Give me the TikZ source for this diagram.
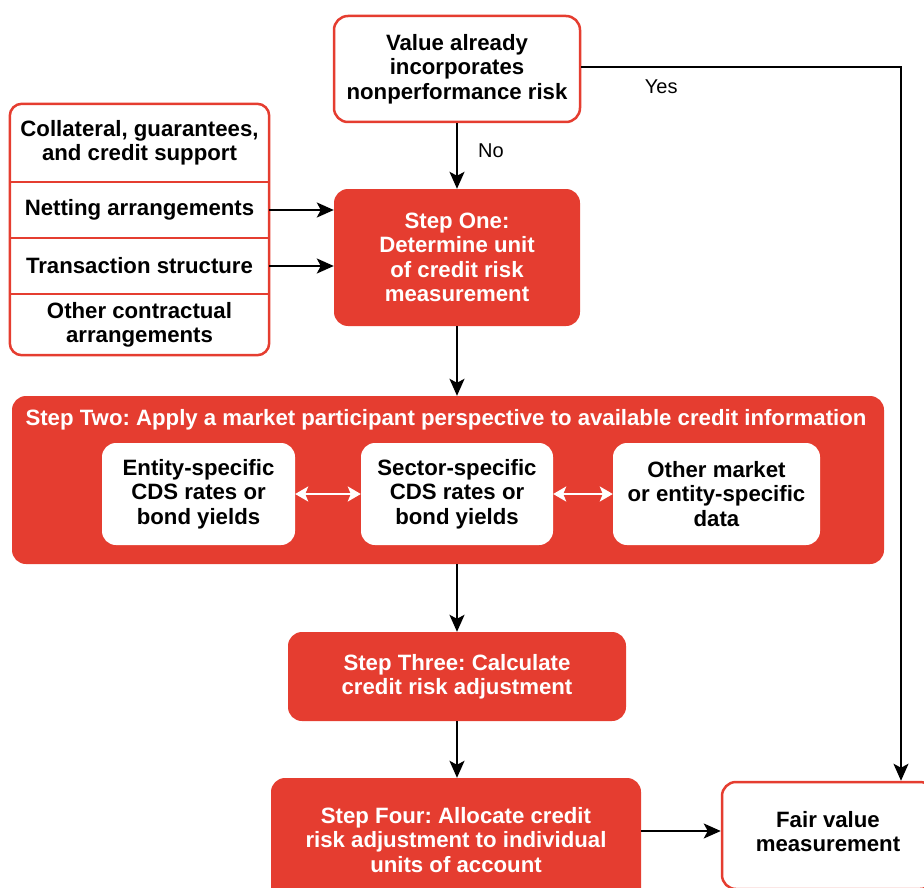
\documentclass[tikz,border=0pt]{standalone}
\usepackage{fontspec}
\setmainfont{Liberation Sans}
\usetikzlibrary{arrows.meta,calc}
\definecolor{cred}{RGB}{229,61,48}
\frenchspacing
\begin{document}
\begin{tikzpicture}[x=1pt,y=-1pt,
  txt/.style={font=\fontsize{22.2}{24.3}\selectfont\bfseries, align=center},
  box/.style={txt, rectangle, rounded corners=14pt, inner sep=0pt},
  whitebox/.style={box, draw=cred, line width=2.5pt, fill=white, text=black},
  redbox/.style={box, fill=cred, text=white},
  innerbox/.style={box, fill=white, text=black, minimum height=102pt},
  seg/.style={txt, rectangle, inner sep=0pt, minimum width=259pt, text=black},
  lbl/.style={font=\fontsize{20}{24}\selectfont, text=black, inner sep=0pt},
  arr/.style={-{Stealth[length=17pt,width=15pt,inset=4pt]}, line width=2pt, black},
  warr/.style={{Stealth[length=13pt,width=15pt,inset=3pt]}-{Stealth[length=13pt,width=15pt,inset=3pt]}, line width=2pt, white}
]
\useasboundingbox (0,0) rectangle (924,888);

% top decision box
\node[whitebox, minimum width=246pt, minimum height=106pt] (val) at (457,69)
  {Value already\\incorporates\\nonperformance risk};

% step one
\node[redbox, minimum width=246pt, minimum height=137pt] (s1) at (457,257.5)
  {Step One:\\Determine unit\\of credit risk\\measurement};

% left stacked box
\node[seg, minimum height=78pt] (c1) at (139.5,143) {Collateral, guarantees,\\and credit support};
\node[seg, minimum height=56pt] (c2) at (139.5,210) {Netting arrangements};
\node[seg, minimum height=56pt] (c3) at (139.5,266) {Transaction structure};
\node[seg, minimum height=61pt] (c4) at (139.5,324.5) {Other contractual\\arrangements};
\draw[cred, line width=2.5pt, rounded corners=12pt] (c1.north west) rectangle (c4.south east);
\draw[cred, line width=2.5pt] (c1.south west) -- (c1.south east)
  (c2.south west) -- (c2.south east) (c3.south west) -- (c3.south east);

% step two
\node[redbox, minimum width=872pt, minimum height=168pt] (s2) at (448,480) {};
\node[txt, text=white, inner sep=0pt] (s2t) at (446,420)
  {Step Two: Apply a market participant perspective to available credit information};
\node[innerbox, minimum width=193pt] (e1) at (198.5,494) {Entity-specific\\CDS rates or\\bond yields};
\node[innerbox, minimum width=192pt] (e2) at (457,494) {Sector-specific\\CDS rates or\\bond yields};
\node[innerbox, minimum width=207pt] (e3) at (716.5,494) {Other market\\or entity-specific\\data};

% step three, four
\node[redbox, minimum width=338pt, minimum height=89pt] (s3) at (457,676.5)
  {Step Three: Calculate\\credit risk adjustment};
\node[redbox, minimum width=370pt, minimum height=124pt] (s4) at (456,840)
  {Step Four: Allocate credit\\risk adjustment to individual\\units of account};

% fair value
\node[whitebox, minimum width=212pt, minimum height=107pt, text depth=8pt] (fv) at (828,835.5)
  {Fair value\\measurement};

% connectors
\draw[arr] (val.south) -- (s1.north) node[lbl, pos=0.42, xshift=34pt] {No};
\draw[arr] (c2.east) -- (c2.east -| s1.west);
\draw[arr] (c3.east) -- (c3.east -| s1.west);
\draw[arr] (s1.south) -- (s2.north -| s1.south);
\draw[warr] (e1.east) -- (e2.west);
\draw[warr] (e2.east) -- (e3.west);
\draw[arr] (s2.south -| s3.north) -- (s3.north);
\draw[arr] (s3.south) -- (s4.north -| s3.south);
\draw[arr] ([yshift=9pt]s4.east) -- ([yshift=9pt]s4.east -| fv.west);
\coordinate (yc) at (901,67);
\draw[arr] (val.east |- yc) -- (yc) node[lbl, pos=0.25, below=12pt] {Yes} -- (yc |- fv.north);
\end{tikzpicture}
\end{document}
